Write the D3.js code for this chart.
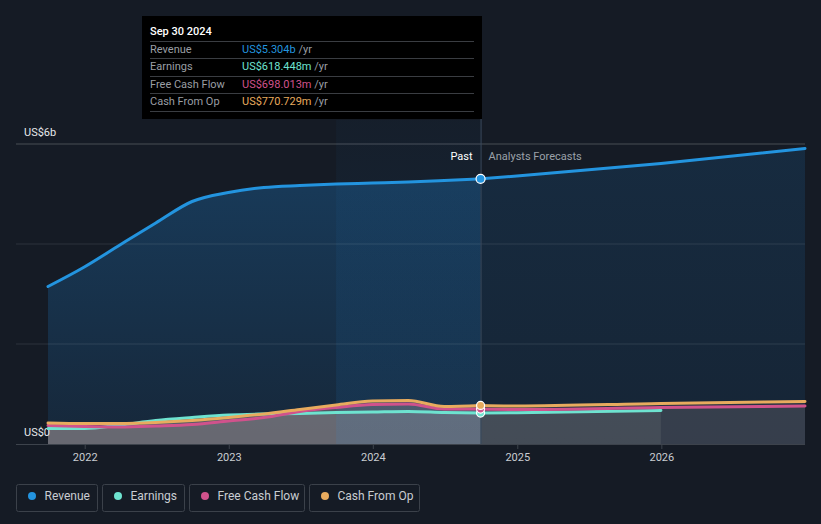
<!DOCTYPE html>
<html>
<head>
<meta charset="utf-8">
<script src="https://cdn.jsdelivr.net/npm/d3@7/dist/d3.min.js"></script>
<style>
  html, body { margin: 0; padding: 0; background: #151b25; }
  svg { display: block; font-family: Roboto, "Noto Sans", sans-serif; }
</style>
</head>
<body>
<svg id="chart" width="821" height="524"></svg>
<script>
// ---------- DATA ----------
const pastDates = ["2021-09-30","2021-12-31","2022-03-31","2022-06-30","2022-09-30","2022-12-31","2023-03-31","2023-06-30","2023-09-30","2023-12-31","2024-03-31","2024-06-30","2024-09-30"];
const revenuePast  = [3.15, 3.54, 3.98, 4.42, 4.85, 5.03, 5.13, 5.17, 5.20, 5.22, 5.24, 5.27, 5.304];
const earningsPast = [0.31, 0.31, 0.38, 0.47, 0.53, 0.58, 0.60, 0.61, 0.63, 0.64, 0.65, 0.63, 0.618];
const fcfPast      = [0.37, 0.35, 0.34, 0.36, 0.39, 0.46, 0.53, 0.65, 0.73, 0.79, 0.80, 0.70, 0.698];
const cfoPast      = [0.42, 0.41, 0.41, 0.43, 0.47, 0.53, 0.60, 0.69, 0.78, 0.86, 0.87, 0.75, 0.771];

const forecastDates = ["2024-09-30","2024-12-31","2025-12-31","2026-12-31"];
const revenueFc  = [5.304, 5.36, 5.61, 5.91];
const earningsFc = [0.618, 0.625, 0.67];          // ends 2025-12-31
const fcfFc      = [0.698, 0.69, 0.73, 0.76];
const cfoFc      = [0.771, 0.76, 0.81, 0.85];

const yTicks = [0, 2, 4, 6];
const yTickLabels = {0: "US$0", 6: "US$6b"};
const xTickYears = [2022, 2023, 2024, 2025, 2026];

const seriesNames  = ["Revenue", "Earnings", "Free Cash Flow", "Cash From Op"];
const seriesColors = ["#2394df", "#6ee3d0", "#d0528c", "#e8ab5e"];
const tooltipDate = "Sep 30 2024";
const tooltipValues = ["US$5.304b", "US$618.448m", "US$698.013m", "US$770.729m"];

// ---------- SETUP ----------
const parse = d3.timeParse("%Y-%m-%d");
const svg = d3.select("#chart");
const W = 821, H = 524;
const x = d3.scaleTime().domain([parse("2021-09-30"), parse("2026-12-31")]).range([48, 805]);
const y = d3.scaleLinear().domain([0, 6]).range([444, 144]);
const left = 16, right = 805;

const mk = (dates, vals) => vals.map((v, i) => ({ d: parse(dates[i]), v }));
const rev = { past: mk(pastDates, revenuePast), fc: mk(forecastDates, revenueFc) };
const earn = { past: mk(pastDates, earningsPast), fc: mk(forecastDates, earningsFc) };
const fcf = { past: mk(pastDates, fcfPast), fc: mk(forecastDates, fcfFc) };
const cfo = { past: mk(pastDates, cfoPast), fc: mk(forecastDates, cfoFc) };

const line = d3.line().x(d => x(d.d)).y(d => y(d.v)).curve(d3.curveMonotoneX);
const area = d3.area().x(d => x(d.d)).y0(y(0)).y1(d => y(d.v)).curve(d3.curveMonotoneX);

svg.append("rect").attr("width", W).attr("height", H).attr("fill", "#151b25");

const defs = svg.append("defs");
const g1 = defs.append("linearGradient").attr("id", "revPast").attr("gradientUnits", "userSpaceOnUse")
  .attr("x1", 0).attr("y1", 144).attr("x2", 0).attr("y2", 444);
g1.append("stop").attr("offset", 0).attr("stop-color", "#2196f3").attr("stop-opacity", 0.27);
g1.append("stop").attr("offset", 1).attr("stop-color", "#2196f3").attr("stop-opacity", 0.1);
const g2 = defs.append("linearGradient").attr("id", "revFc").attr("gradientUnits", "userSpaceOnUse")
  .attr("x1", 0).attr("y1", 144).attr("x2", 0).attr("y2", 444);
g2.append("stop").attr("offset", 0).attr("stop-color", "#2196f3").attr("stop-opacity", 0.13);
g2.append("stop").attr("offset", 1).attr("stop-color", "#2196f3").attr("stop-opacity", 0.08);
const g3 = defs.append("linearGradient").attr("id", "band").attr("gradientUnits", "userSpaceOnUse")
  .attr("x1", 0).attr("y1", 120).attr("x2", 0).attr("y2", 444);
g3.append("stop").attr("offset", 0).attr("stop-color", "#2196f3").attr("stop-opacity", 0.03);
g3.append("stop").attr("offset", 1).attr("stop-color", "#2196f3").attr("stop-opacity", 0.1);

// revenue areas
svg.append("path").datum(rev.past).attr("d", area).attr("fill", "url(#revPast)");
svg.append("path").datum(rev.fc).attr("d", area).attr("fill", "url(#revFc)");

// lower series areas
const lowerFills = [
  { s: earn, c: "#aeb4b2" },
  { s: fcf, c: "#a8909c" },
  { s: cfo, c: "#a89c94" }
];
lowerFills.forEach(f => {
  svg.append("path").datum(f.s.past).attr("d", area).attr("fill", f.c).attr("fill-opacity", 0.24);
  svg.append("path").datum(f.s.fc).attr("d", area).attr("fill", f.c).attr("fill-opacity", 0.12);
});

// highlight band (last 12 months)
svg.append("rect")
  .attr("x", x(parse("2023-09-30"))).attr("y", 120)
  .attr("width", x(parse("2024-09-30")) - x(parse("2023-09-30"))).attr("height", y(0) - 120)
  .attr("fill", "url(#band)");

// gridlines
svg.append("g").selectAll("line").data(yTicks.filter(t => t > 0)).join("line")
  .attr("x1", left).attr("x2", right).attr("y1", d => y(d)).attr("y2", d => y(d))
  .attr("stroke", "#ffffff").attr("stroke-opacity", d => d === 6 ? 0.22 : 0.1).attr("stroke-width", 1);

// vertical line at present
svg.append("line").attr("x1", x(parse("2024-09-30")) + 0.5).attr("x2", x(parse("2024-09-30")) + 0.5)
  .attr("y1", 16).attr("y2", y(0)).attr("stroke", "#3a4a5c").attr("stroke-width", 1);

// x axis
const xAxis = d3.axisBottom(x)
  .tickValues(xTickYears.map(yr => new Date(yr, 0, 1)))
  .tickFormat(d3.timeFormat("%Y")).tickSize(5).tickSizeOuter(0);
const ax = svg.append("g").attr("transform", `translate(0,${y(0)})`).call(xAxis);
ax.select(".domain").remove();
ax.selectAll(".tick line").attr("stroke", "#3d434c");
ax.selectAll(".tick text").attr("fill", "#c9cdd2").attr("font-size", 11).attr("dy", "0.85em")
  .attr("font-family", "Roboto, sans-serif");
svg.append("line").attr("x1", left).attr("x2", right).attr("y1", y(0) + 0.5).attr("y2", y(0) + 0.5)
  .attr("stroke", "#3d434c").attr("stroke-width", 1);

// y labels
svg.append("g").selectAll("text").data(yTicks.filter(t => yTickLabels[t])).join("text")
  .attr("x", 24).attr("y", d => y(d) - 12).attr("dy", "0.35em")
  .attr("fill", "#e6e8eb").attr("font-size", 11).text(d => yTickLabels[d]);

// lines
const lineSets = [
  { s: earn, c: seriesColors[1] },
  { s: fcf, c: seriesColors[2] },
  { s: cfo, c: seriesColors[3] },
  { s: rev, c: seriesColors[0] }
];
lineSets.forEach(l => {
  svg.append("path").datum(l.s.past).attr("d", line).attr("fill", "none")
    .attr("stroke", l.c).attr("stroke-width", 3).attr("stroke-linecap", "round");
  svg.append("path").datum(l.s.fc).attr("d", line).attr("fill", "none")
    .attr("stroke", l.c).attr("stroke-width", 3).attr("stroke-linecap", "round");
});

// markers at present
const nowD = parse("2024-09-30");
[[earn, 1], [fcf, 2], [cfo, 3], [rev, 0]].forEach(([s, i]) => {
  const last = s.past[s.past.length - 1];
  svg.append("circle").attr("cx", x(nowD)).attr("cy", y(last.v)).attr("r", i === 0 ? 4.5 : 4)
    .attr("fill", seriesColors[i]).attr("stroke", "#ffffff").attr("stroke-width", 1.2);
});

// Past / Analysts Forecasts labels
svg.append("text").attr("x", x(nowD) - 8).attr("y", 156).attr("dy", "0.35em")
  .attr("text-anchor", "end").attr("fill", "#ffffff").attr("font-size", 11).text("Past");
svg.append("text").attr("x", x(nowD) + 8).attr("y", 156).attr("dy", "0.35em")
  .attr("fill", "#9ba1a9").attr("font-size", 11).text("Analysts Forecasts");

// tooltip
const tt = svg.append("g");
tt.append("rect").attr("x", 142).attr("y", 16).attr("width", 340).attr("height", 103).attr("fill", "#000000");
tt.append("text").attr("x", 150).attr("y", 31).attr("dy", "0.35em").attr("fill", "#ffffff")
  .attr("font-size", 11).attr("font-weight", 500).text(tooltipDate);
const rowY = [49, 66, 84, 101];
const sepY = [41, 58, 76, 93, 111];
sepY.forEach(sy => tt.append("line").attr("x1", 150).attr("x2", 474).attr("y1", sy + 0.5).attr("y2", sy + 0.5)
  .attr("stroke", "#3a3d42").attr("stroke-width", 1));
seriesNames.forEach((n, i) => {
  tt.append("text").attr("x", 150).attr("y", rowY[i]).attr("dy", "0.35em")
    .attr("fill", "#9a9ea4").attr("font-size", 11).text(n);
  const t = tt.append("text").attr("x", 242).attr("y", rowY[i]).attr("dy", "0.35em").attr("font-size", 11);
  t.append("tspan").attr("fill", seriesColors[i]).text(tooltipValues[i]);
  t.append("tspan").attr("fill", "#9a9ea4").text(" /yr");
});

// legend
const legX = [16.5, 102.5, 189.5, 309.5];
const legW = [81, 82, 115, 110];
const lg = svg.append("g");
seriesNames.forEach((n, i) => {
  lg.append("rect").attr("x", legX[i]).attr("y", 484.5).attr("width", legW[i]).attr("height", 27)
    .attr("rx", 2).attr("fill", "none").attr("stroke", "#3b414a").attr("stroke-width", 1);
  lg.append("circle").attr("cx", legX[i] + 15.5).attr("cy", 496).attr("r", 4).attr("fill", seriesColors[i]);
  lg.append("text").attr("x", legX[i] + 28).attr("y", 496).attr("dy", "0.35em")
    .attr("fill", "#c9cdd2").attr("font-size", 12).text(n);
});
</script>
</body>
</html>
